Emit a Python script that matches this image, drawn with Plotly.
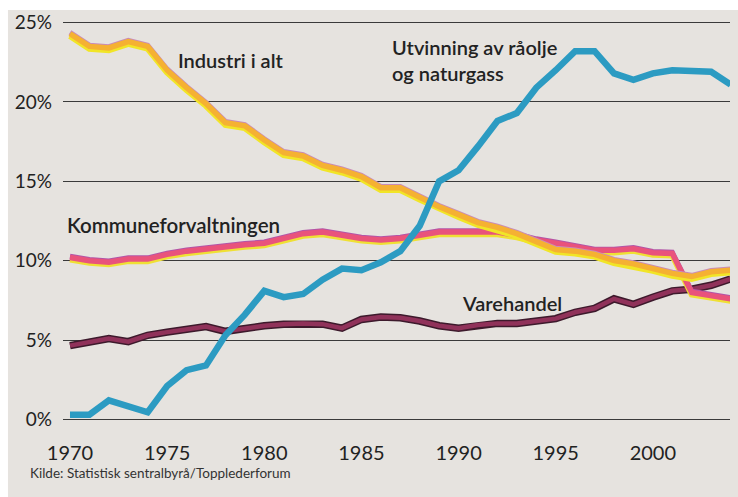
import plotly.graph_objects as go

# Andel av sysselsatte etter næring, 1970-2004 (prosent)
years = list(range(1970, 2005))

industri = [24.3, 23.5, 23.4, 23.8, 23.5, 22.0, 20.9, 19.9, 18.7, 18.5,
            17.6, 16.8, 16.6, 16.0, 15.7, 15.3, 14.6, 14.6, 14.0, 13.4,
            12.9, 12.4, 12.1, 11.7, 11.2, 10.7, 10.6, 10.4, 10.0, 9.8,
            9.5, 9.2, 9.0, 9.3, 9.4]

utvinning = [0.3, 0.3, 1.2, 0.8, 0.45, 2.1, 3.1, 3.4, 5.3, 6.6,
             8.1, 7.7, 7.9, 8.8, 9.5, 9.4, 9.9, 10.6, 12.2, 15.0,
             15.7, 17.2, 18.8, 19.3, 20.9, 22.0, 23.2, 23.2, 21.8, 21.4,
             21.8, 22.0, 22.0, 21.9, 21.1]

kommune = [10.2, 10.0, 9.9, 10.1, 10.1, 10.4, 10.6, 10.75, 10.9, 11.0,
           11.1, 11.4, 11.7, 11.8, 11.6, 11.4, 11.3, 11.4, 11.6, 11.8,
           11.8, 11.8, 11.8, 11.6, 11.3, 11.1, 10.85, 10.65, 10.65, 10.75,
           10.5, 10.45, 8.0, 7.8, 7.6]

varehandel = [4.65, 4.9, 5.1, 4.9, 5.3, 5.5, 5.7, 5.85, 5.55, 5.75,
              5.9, 6.0, 6.05, 6.0, 5.75, 6.3, 6.45, 6.4, 6.2, 5.9,
              5.75, 5.95, 6.05, 6.05, 6.2, 6.35, 6.75, 7.0, 7.6, 7.25,
              7.7, 8.1, 8.2, 8.45, 8.85]

x_ticks = [1970, 1975, 1980, 1985, 1990, 1995, 2000]
y_ticks = [0, 5, 10, 15, 20, 25]
y_ticktext = [f"{v}%" for v in y_ticks]

FONT = "Lato"
INK = "#222222"
PAPER_GREY = "#e6e3df"

# small vertical offset (in %) used for the misregistered ink fringes
fringe = 0.13


def shifted(values, d):
    return [v + d for v in values]


fig = go.Figure()


def line(y, color, width):
    fig.add_trace(go.Scatter(
        x=years, y=y, mode="lines",
        line=dict(color=color, width=width, shape="linear"),
        hoverinfo="skip", showlegend=False, cliponaxis=False,
    ))


# Varehandel: dark edge under maroon ink
line(varehandel, "#3d1a2c", 7.5)
line(varehandel, "#90325a", 4.5)

# Kommuneforvaltningen: yellow fringe below, purple tinge above
line(shifted(kommune, -fringe), "#efe034", 6)
line(shifted(kommune, fringe * 0.6), "#b255a8", 5)
line(kommune, "#e9537c", 5.5)

# Industri i alt: yellow fringe below, pinkish edge above
line(shifted(industri, -fringe), "#f1e527", 6.5)
line(shifted(industri, fringe * 0.6), "#c98cb8", 5)
line(industri, "#f5b132", 5.5)

# Utvinning av råolje og naturgass
line(utvinning, "#2c9bc2", 6.5)

label_font = dict(family=FONT, size=20, color=INK, weight=600)

annotations = [
    dict(x=1978.3, y=22.65, text="Industri i alt", xanchor="center"),
    dict(x=1986.45, y=22.65, text="Utvinning av råolje<br>og naturgass",
         xanchor="left", align="left"),
    dict(x=1969.72, y=12.22, text="Kommuneforvaltningen", xanchor="left",
         font=dict(family=FONT, size=20.5, color=INK, weight=600)),
    dict(x=1990.05, y=7.31, text="Varehandel", xanchor="left"),
]
for a in annotations:
    a.setdefault("font", label_font)
    fig.add_annotation(xref="x", yref="y", yanchor="middle", showarrow=False,
                       **a)

fig.add_annotation(
    xref="paper", yref="paper", x=-0.0525, y=-0.131,
    xanchor="left", yanchor="middle", showarrow=False,
    text="Kilde: Statistisk sentralbyrå/Topplederforum",
    font=dict(family=FONT, size=13.5, color="#333333"),
)

# newsprint background with a thin white border at the top and left
fig.add_shape(
    type="rect", xref="paper", yref="paper", layer="below",
    x0=-0.0825, x1=1.02, y0=-0.19, y1=1.0275,
    fillcolor=PAPER_GREY, line=dict(width=0),
)

fig.update_layout(
    width=738, height=497,
    margin=dict(l=63, r=8, t=21, b=76),
    paper_bgcolor="white",
    plot_bgcolor="rgba(0,0,0,0)",
    showlegend=False,
    xaxis=dict(
        range=[1969.64, 2003.97],
        tickvals=x_ticks, ticktext=[str(v) for v in x_ticks],
        showgrid=False, zeroline=False, showline=False, ticks="",
        tickfont=dict(family=FONT, size=20, color=INK),
        ticklabelstandoff=18,
    ),
    yaxis=dict(
        range=[-0.1, 25.1],
        tickvals=y_ticks, ticktext=y_ticktext,
        showgrid=True, gridcolor="#3a3a3a", gridwidth=1.2,
        zeroline=False, showline=False, ticks="",
        tickfont=dict(family=FONT, size=19, color=INK),
        ticklabelstandoff=10,
    ),
)

fig.write_html("out.html")
